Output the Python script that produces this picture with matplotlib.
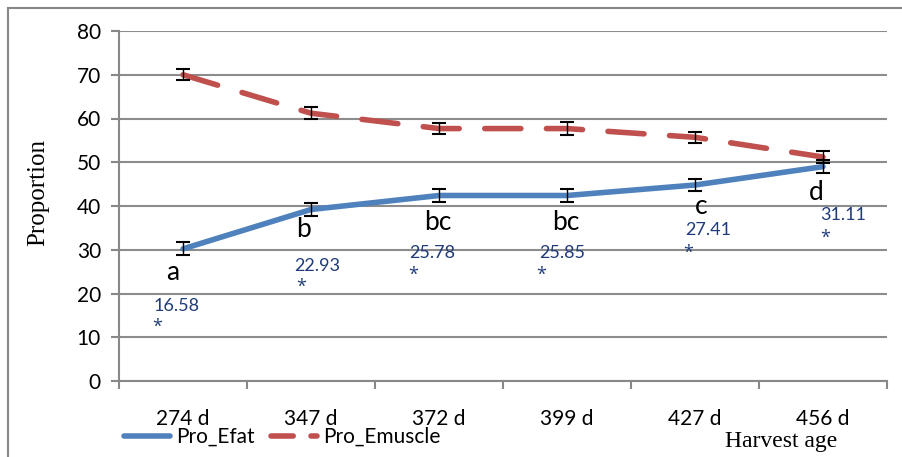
import matplotlib.pyplot as plt
import numpy as np
from matplotlib.lines import Line2D

ages = ["274 d", "347 d", "372 d", "399 d", "427 d", "456 d"]
pro_efat = [30.2, 39.2, 42.4, 42.4, 44.8, 49.0]
pro_emuscle = [70.0, 61.2, 57.7, 57.7, 55.7, 51.2]
err_efat = [1.5, 1.5, 1.5, 1.5, 1.3, 1.5]
err_emuscle = [1.3, 1.4, 1.3, 1.4, 1.2, 1.3]

letters = ["a", "b", "bc", "bc", "c", "d"]
letter_pos = [(-0.08, 24.7), (0.94, 34.7), (1.99, 36.3), (2.99, 36.3), (4.05, 39.8), (4.95, 43.0)]
numbers = ["16.58", "22.93", "25.78", "25.85", "27.41", "31.11"]
number_pos = [(-0.05, 17.1), (1.05, 26.3), (1.95, 29.3), (2.96, 29.3), (4.10, 34.5), (5.16, 37.9)]
star_pos = [(-0.2, 12.3), (0.92, 21.5), (1.80, 24.2), (2.80, 24.2), (3.95, 29.3), (5.02, 32.7)]

blue = "#4f81bd"
red = "#c0504d"
navy = "#1f3b7a"
font = "Lato"

fig = plt.figure(figsize=(9.02, 4.57), dpi=100)
ax = fig.add_axes([119 / 902, 1 - 381 / 457, 768 / 902, 350 / 457])

x = np.arange(len(ages))
ax.plot(x, pro_efat, color=blue, lw=4, solid_capstyle="round", zorder=3)
ax.plot(x, pro_emuscle, color=red, lw=4, dashes=(6.5, 4.6), dash_capstyle="round", zorder=3)
ax.errorbar(x, pro_efat, yerr=err_efat, fmt="none", ecolor="black", elinewidth=1, capsize=5, capthick=1.5, zorder=4)
ax.errorbar(x, pro_emuscle, yerr=err_emuscle, fmt="none", ecolor="black", elinewidth=1, capsize=5, capthick=1.5, zorder=4)

for t, (px, py) in zip(letters, letter_pos):
    ax.text(px, py, t, fontsize=19, ha="center", va="center", color="black", family=font)
for t, (px, py) in zip(numbers, number_pos):
    ax.text(px, py, t, fontsize=13, ha="center", va="center", color=navy, family=font)
for px, py in star_pos:
    ax.text(px, py, "*", fontsize=13, ha="center", va="center", color=navy, family="Open Sans")

ax.set_xlim(-0.5, 5.5)
ax.set_ylim(0, 80)
ax.set_yticks(range(0, 81, 10))
ax.set_xticks(x)
ax.set_xticklabels(ages)
ax.set_xticks(np.arange(-0.5, 6, 1), minor=True)
ax.tick_params(axis="x", which="major", length=0, pad=20, labelsize=15)
ax.tick_params(axis="x", which="minor", length=6, color="#888888", width=1.5)
ax.tick_params(axis="y", length=6, color="#888888", width=1.5, labelsize=15, pad=7)
for lab in ax.get_xticklabels() + ax.get_yticklabels():
    lab.set_family(font)

ax.grid(axis="y", color="#8c8c8c", lw=1.5)
ax.set_axisbelow(True)
for s in ["top", "right"]:
    ax.spines[s].set_visible(False)
ax.spines["left"].set_color("#888888")
ax.spines["left"].set_linewidth(1.5)
ax.spines["bottom"].set_color("#888888")
ax.spines["bottom"].set_linewidth(1.5)

fig.text(38 / 902, 1 - 192 / 457, "Proportion", rotation=90, ha="center", va="center",
         fontsize=18, family="Liberation Serif")
fig.text(781 / 902, 1 - 441 / 457, "Harvest age", ha="center", va="center",
         fontsize=17, family="Liberation Serif")

handles = [Line2D([], [], color=blue, lw=4, solid_capstyle="round"),
           Line2D([], [], color=red, lw=4, dashes=(4, 3.2), dash_capstyle="round")]
fig.legend(handles, ["Pro_Efat", "Pro_Emuscle"], loc="center left", bbox_to_anchor=(124 / 902, 1 - 437 / 457),
           ncol=2, frameon=False, handlelength=2.2, handletextpad=0.3, columnspacing=0.8,
           borderpad=0, borderaxespad=0, prop={"family": font, "size": 15})

fig.add_artist(plt.Rectangle((8 / 902, -0.1), 1.2, 1.1 - 8 / 457, transform=fig.transFigure,
                             fill=False, edgecolor="#888888", lw=1.5))

fig.savefig("out.png", dpi=100)
